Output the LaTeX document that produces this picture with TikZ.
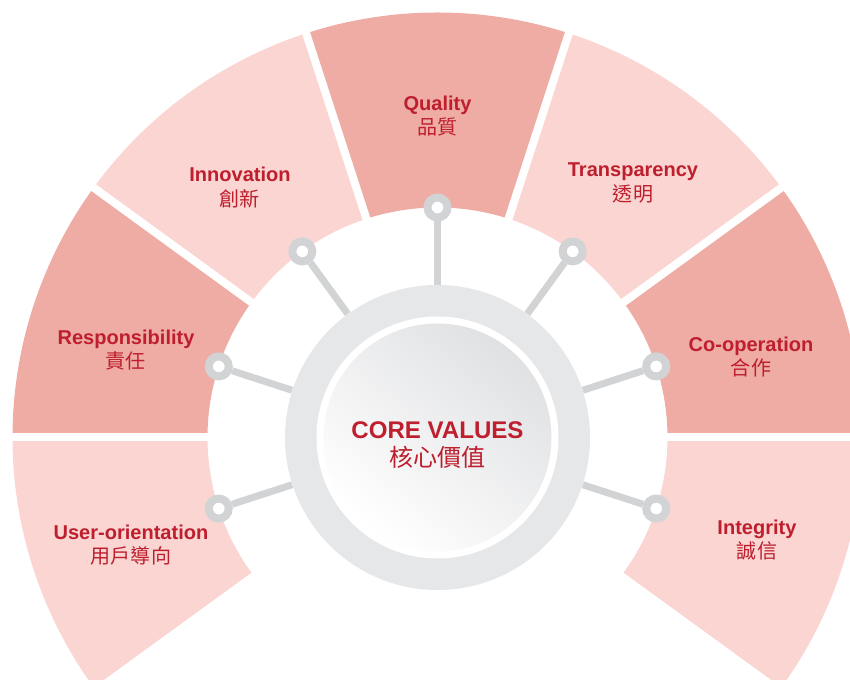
\documentclass[tikz,border=0pt]{standalone}
\usepackage{fontspec}
\setmainfont{Liberation Sans}
\newfontfamily\cjk{Noto Sans CJK TC}
\usepackage{xcolor}
\usepackage{tikz}
\usetikzlibrary{shadings}

\definecolor{valred}{RGB}{190,30,45}
\definecolor{secdark}{RGB}{238,172,165}
\definecolor{seclight}{RGB}{250,213,210}
\definecolor{ringgray}{RGB}{230,231,232}
\definecolor{diskgray}{RGB}{224,225,227}
\definecolor{spokegray}{RGB}{209,211,212}

\begin{document}
\begin{tikzpicture}[
    knob/.style={circle, draw=spokegray, line width=0.16cm, fill=white, inner sep=0pt, minimum size=0.4cm},
    spoke/.style={spokegray, line width=0.14cm},
    gap/.style={white, line width=0.16cm},
    valtext/.style={text=valred, align=center, font=\fontsize{11.4}{13.7}\selectfont},
    core/.style={circle, fill=ringgray, minimum size=6.1cm, inner sep=0pt,
        path picture={
            \fill[white] (path picture bounding box.center) circle (2.42cm);
            \shade[top color=diskgray, bottom color=white, shading angle=-40]
                (path picture bounding box.center) circle (2.28cm);
        }}
]
    % 画布大小与参考图一致
    \useasboundingbox (-8.75,-4.85) rectangle (8.25,8.75);
    \def\rin{4.6}
    \def\rout{8.5}

    % 1. 外圈七个扇环
    \begin{scope}
        \clip (-8.75,-4.85) rectangle (8.25,8.75);
        \fill[secdark]  (144:\rin) arc (144:180:\rin) -- (180:\rout) arc (180:144:\rout) -- cycle; % Responsibility
        \fill[seclight] (108:\rin) arc (108:144:\rin) -- (144:\rout) arc (144:108:\rout) -- cycle; % Innovation
        \fill[secdark]  (72:\rin) arc (72:108:\rin) -- (108:\rout) arc (108:72:\rout) -- cycle;   % Quality
        \fill[seclight] (36:\rin) arc (36:72:\rin) -- (72:\rout) arc (72:36:\rout) -- cycle;      % Transparency
        \fill[secdark]  (0:\rin) arc (0:36:\rin) -- (36:\rout) arc (36:0:\rout) -- cycle;         % Co-operation
        \fill[seclight] (-36:\rin) arc (-36:0:\rin) -- (0:\rout) arc (0:-36:\rout) -- cycle;      % Integrity
        \fill[seclight] (180:\rin) arc (180:216:\rin) -- (216:\rout) arc (216:180:\rout) -- cycle; % User-orientation

        % 2. 扇环之间的白色缝隙
        \draw[gap] (0:4.4) -- (0:8.7);
        \draw[gap] (36:4.4) -- (36:8.7);
        \draw[gap] (72:4.4) -- (72:8.7);
        \draw[gap] (108:4.4) -- (108:8.7);
        \draw[gap] (144:4.4) -- (144:8.7);
        \draw[gap] (180:4.4) -- (180:8.7);
    \end{scope}

    % 3. 中心圆
    \node[core] (core) at (0,0) {};
    \node[valtext, font=\fontsize{13.7}{15.9}\selectfont] (coretext) at (0,-0.15)
        {\textbf{CORE VALUES}\\{\cjk 核心價值}};

    % 4. 连接点
    \node[knob] (kqual)  at (90:\rin) {};
    \node[knob] (kinno)  at (126:\rin) {};
    \node[knob] (ktrans) at (54:\rin) {};
    \node[knob] (kresp)  at (162:\rin) {};
    \node[knob] (kcoop)  at (18:\rin) {};
    \node[knob] (kuser)  at (198:\rin) {};
    \node[knob] (kinte)  at (-18:\rin) {};

    % 5. 中心到连接点的连线
    \draw[spoke] (core) -- (kqual);
    \draw[spoke] (core) -- (kinno);
    \draw[spoke] (core) -- (ktrans);
    \draw[spoke] (core) -- (kresp);
    \draw[spoke] (core) -- (kcoop);
    \draw[spoke] (core) -- (kuser);
    \draw[spoke] (core) -- (kinte);

    % 6. 扇环中的文字
    \node[valtext] (lqual)  at (0,6.42)     {\textbf{Quality}\\{\cjk 品質}};
    \node[valtext] (linno)  at (-3.95,5.0)  {\textbf{Innovation}\\{\cjk 創新}};
    \node[valtext] (ltrans) at (3.91,5.09)  {\textbf{Transparency}\\{\cjk 透明}};
    \node[valtext] (lresp)  at (-6.23,1.74) {\textbf{Responsibility}\\{\cjk 責任}};
    \node[valtext] (lcoop)  at (6.27,1.6)   {\textbf{Co-operation}\\{\cjk 合作}};
    \node[valtext] (luser)  at (-6.13,-2.15) {\textbf{User-orientation}\\{\cjk 用戶導向}};
    \node[valtext] (linte)  at (6.39,-2.05) {\textbf{Integrity}\\{\cjk 誠信}};
\end{tikzpicture}
\end{document}
